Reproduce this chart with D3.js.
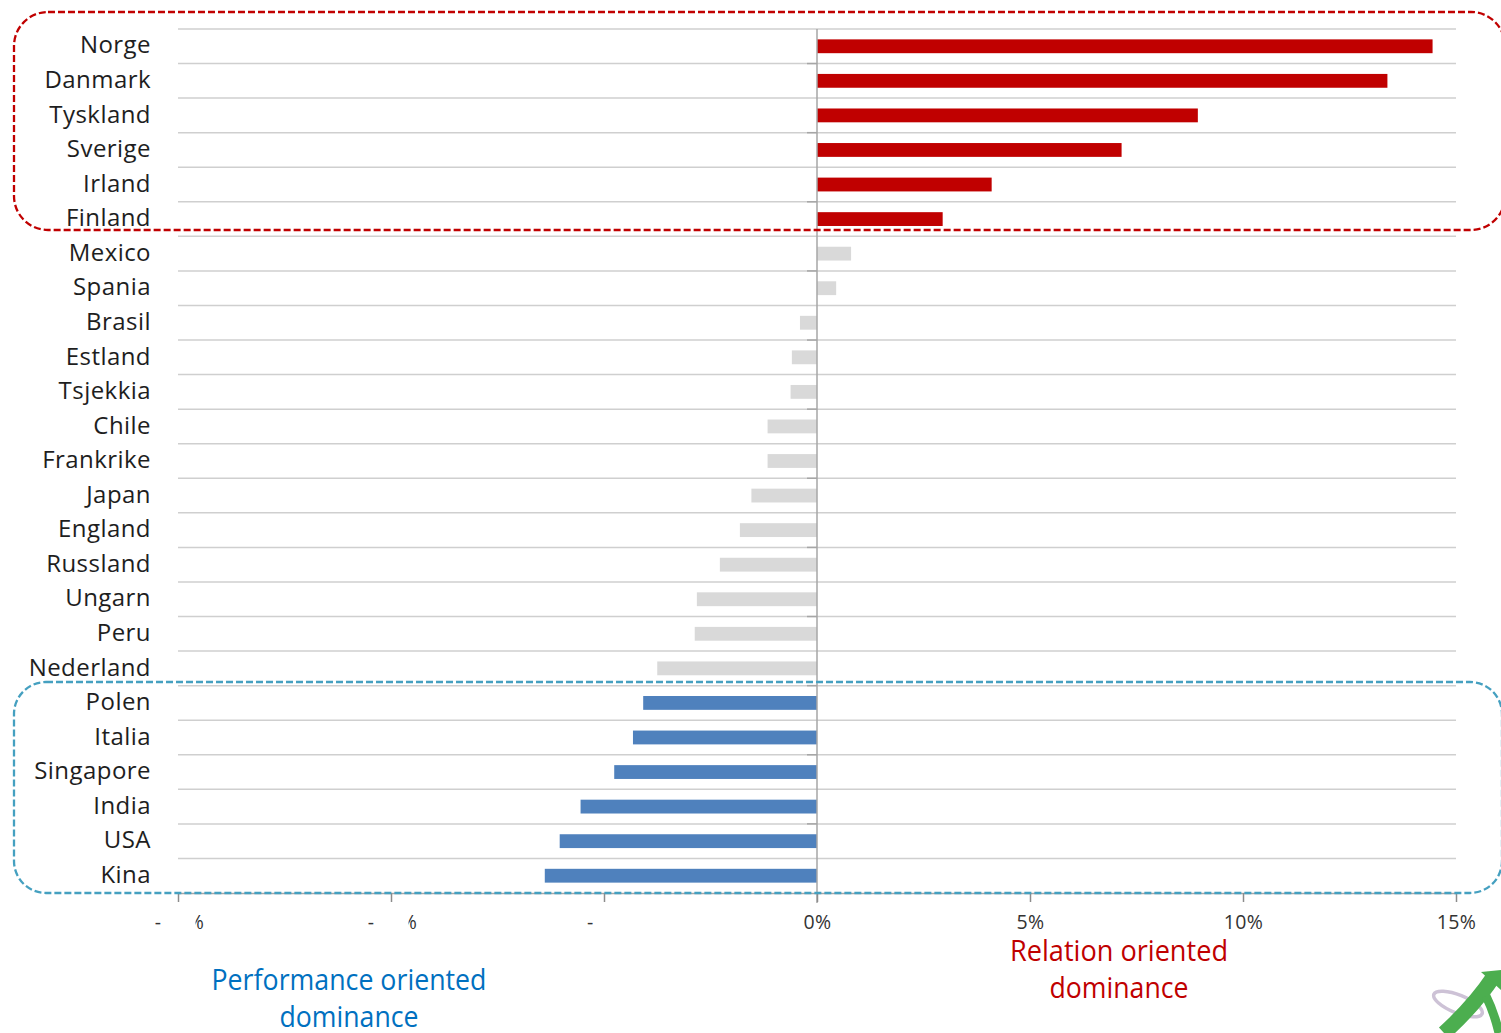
<!DOCTYPE html>
<html>
<head>
<meta charset="utf-8">
<script src="https://cdn.jsdelivr.net/npm/d3@7"></script>
<style>
  html, body { margin: 0; padding: 0; background: #fff; }
  svg { display: block; }
</style>
</head>
<body>
<svg id="chart" width="1501" height="1033"></svg>
<script>
// ---------- DATA ----------
const categories = ["Norge","Danmark","Tyskland","Sverige","Irland","Finland",
  "Mexico","Spania","Brasil","Estland","Tsjekkia","Chile","Frankrike","Japan",
  "England","Russland","Ungarn","Peru","Nederland",
  "Polen","Italia","Singapore","India","USA","Kina"];
const values = [14.45, 13.39, 8.94, 7.15, 4.10, 2.95,
  0.80, 0.45, -0.40, -0.59, -0.62, -1.16, -1.16, -1.54,
  -1.81, -2.28, -2.82, -2.87, -3.75,
  -4.08, -4.32, -4.76, -5.55, -6.04, -6.39];
const groups = ["relation","relation","relation","relation","relation","relation",
  "neutral","neutral","neutral","neutral","neutral","neutral","neutral","neutral",
  "neutral","neutral","neutral","neutral","neutral",
  "performance","performance","performance","performance","performance","performance"];
const tickValues = [-15, -10, -5, 0, 5, 10, 15];
const tickLabels = ["-15%", "-10%", "-5%", "0%", "5%", "10%", "15%"];
const relationTitle = ["Relation oriented", "dominance"];
const performanceTitle = ["Performance oriented", "dominance"];

// ---------- STYLE ----------
const groupColor = { relation: "#c00000", neutral: "#d9d9d9", performance: "#4f81bd" };
const fontFamily = "'Open Sans', 'Noto Sans', sans-serif";

const svg = d3.select("#chart");
const x = d3.scaleLinear().domain([-15, 15]).range([178, 1456]);
const y = d3.scaleBand().domain(categories).range([29, 893]).paddingInner(0.6).paddingOuter(0.3);
const step = y.step();
const top0 = 29;

// gridlines (category boundaries)
const boundaries = d3.range(0, categories.length);
svg.append("g").selectAll("line").data(boundaries).join("line")
  .attr("x1", x(-15)).attr("x2", x(15))
  .attr("y1", d => top0 + d * step).attr("y2", d => top0 + d * step)
  .attr("stroke", "#cfcfcf").attr("stroke-width", 1.5);

// bars
const data = categories.map((c, i) => ({ c, v: values[i], g: groups[i] }));
svg.append("g").selectAll("rect").data(data).join("rect")
  .attr("x", d => x(Math.min(0, d.v)))
  .attr("width", d => Math.abs(x(d.v) - x(0)))
  .attr("y", d => y(d.c))
  .attr("height", y.bandwidth())
  .attr("fill", d => groupColor[d.g]);

// category axis (at zero) with minor ticks every 2 categories
svg.append("line")
  .attr("x1", x(0)).attr("x2", x(0)).attr("y1", top0).attr("y2", 903)
  .attr("stroke", "#a6a6a6").attr("stroke-width", 1.5);
svg.append("g").selectAll("line").data(boundaries.filter(i => i % 2 === 1)).join("line")
  .attr("x1", x(0) - 10).attr("x2", x(0))
  .attr("y1", d => top0 + d * step).attr("y2", d => top0 + d * step)
  .attr("stroke", "#a6a6a6").attr("stroke-width", 1.5);

// category labels
svg.append("g").selectAll("text").data(categories).join("text")
  .attr("x", 151)
  .attr("y", d => y(d) + y.bandwidth() / 2)
  .attr("dy", "0.30em")
  .attr("text-anchor", "end")
  .attr("font-family", fontFamily)
  .attr("font-size", 24)
  .attr("letter-spacing", 0.45)
  .attr("fill", "#1e1e1e")
  .text(d => d);

// bottom value axis
const xAxis = d3.axisBottom(x).tickValues(tickValues)
  .tickFormat((d, i) => tickLabels[i]).tickSize(9).tickSizeOuter(0).tickPadding(13);
const ax = svg.append("g").attr("transform", `translate(0,${top0 + categories.length * step})`).call(xAxis);
ax.select(".domain").attr("stroke", "#a6a6a6").attr("stroke-width", 1.5);
ax.selectAll(".tick line").attr("stroke", "#8c8c8c").attr("stroke-width", 1.5);
ax.selectAll(".tick text")
  .attr("font-family", fontFamily).attr("font-size", 19.5).attr("fill", "#333")
  .attr("letter-spacing", d => d < 0 ? 1.5 : 0.3)
  .attr("dx", d => d < 0 ? 1.5 : 0);

// negative labels are partially hidden in the reference: clip them
const defs = svg.append("defs");
ax.selectAll(".tick").filter(d => d < 0).each(function(d, i) {
  const id = "clipTick" + i;
  const cp = defs.append("clipPath").attr("id", id);
  if (d === -5) {
    cp.append("rect").attr("x", -30).attr("y", 0).attr("width", 20).attr("height", 40);
  } else {
    cp.append("rect").attr("x", -30).attr("y", 0).attr("width", 13.2).attr("height", 40);
    cp.append("rect").attr("x", 17).attr("y", 0).attr("width", 14).attr("height", 40);
  }
  d3.select(this).select("text").attr("clip-path", `url(#${id})`);
});

// dashed rounded group frames
svg.append("rect")
  .attr("x", 14).attr("y", 12).attr("width", 1491).attr("height", 218)
  .attr("rx", 34).attr("ry", 34)
  .attr("fill", "none").attr("stroke", "#c00000").attr("stroke-width", 2.3)
  .attr("stroke-dasharray", "7,3");
svg.append("rect")
  .attr("x", 14).attr("y", 682).attr("width", 1488).attr("height", 211)
  .attr("rx", 32).attr("ry", 32)
  .attr("fill", "none").attr("stroke", "#45a0c0").attr("stroke-width", 2.3)
  .attr("stroke-dasharray", "7,3");

// annotation titles
function title(lines, cx, y0, lh, color, widths) {
  const g = svg.append("g");
  lines.forEach((t, i) => {
    g.append("text")
      .attr("x", cx - widths[i] / 2).attr("y", y0 + i * lh)
      .attr("font-family", fontFamily).attr("font-size", 29)
      .attr("fill", color)
      .attr("textLength", widths[i]).attr("lengthAdjust", "spacingAndGlyphs")
      .text(t);
  });
}
title(relationTitle, 1119, 961, 37, "#c00000", [218, 139]);
title(performanceTitle, 349, 990, 37, "#0070c0", [275, 139]);

// logo fragment (bottom right)
const logo = svg.append("g");
logo.append("ellipse").attr("cx", 1458).attr("cy", 1004).attr("rx", 26).attr("ry", 9)
  .attr("transform", "rotate(22,1458,1004)")
  .attr("fill", "none").attr("stroke", "#cdc2d6").attr("stroke-width", 3.5);
logo.append("path")
  .attr("d", "M1494,976 Q1474,1006 1444,1033")
  .attr("fill", "none").attr("stroke", "#4cae4f").attr("stroke-width", 15);
logo.append("path")
  .attr("d", "M1481,972 L1501,970 L1501,990 Z")
  .attr("fill", "#4cae4f");
logo.append("path")
  .attr("d", "M1486,996 Q1494,1012 1499,1033")
  .attr("fill", "none").attr("stroke", "#4cae4f").attr("stroke-width", 9);
</script>
</body>
</html>
